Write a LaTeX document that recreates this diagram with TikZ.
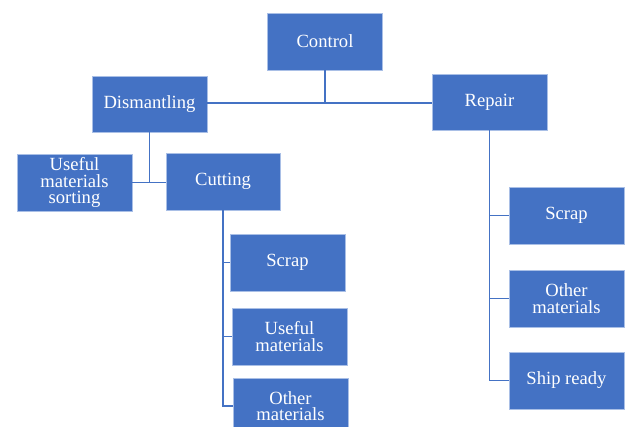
\documentclass[tikz,border=0pt]{standalone}
\usepackage{fontspec}
\setmainfont{Liberation Serif}
\definecolor{boxblue}{HTML}{4472C4}
\definecolor{boxedge}{HTML}{A9BFE6}
\begin{document}
\begin{tikzpicture}[x=1pt,y=-1pt,
  box/.style={draw=boxedge,line width=0.7pt,fill=boxblue,text=white,
    minimum width=115pt,minimum height=57pt,inner sep=1pt,align=center,
    font=\fontsize{18.6}{16.5}\selectfont},
  link/.style={draw=boxblue,line width=1.2pt}]
\useasboundingbox (0,0) rectangle (625,427);
\clip (0,0) rectangle (625,427);
\node[box] (control) at (325,41.5) {Control};
\node[box,minimum height=56pt] (dism) at (149.5,104) {Dismantling};
\node[box,minimum height=56pt] (repair) at (489.5,102) {Repair};
\node[box] (ums) at (74.5,182.5) {Useful\\materials\\sorting};
\node[box,minimum width=114pt] (cut) at (223,181.5) {Cutting};
\node[box] (scrapL) at (287.5,262.5) {Scrap};
\node[box] (useful) at (289.5,336.5) {Useful\\materials};
\node[box,minimum height=56pt] (otherL) at (290.5,406) {Other\\materials};
\node[box] (scrapR) at (566.5,215.5) {Scrap};
\node[box] (otherR) at (566.5,298.5) {Other\\materials};
\node[box] (ship) at (566.5,380.5) {Ship ready};
\coordinate (j1) at (325,103);
\path[link] (control.south) -- (j1);
\path[link] (dism.east |- j1) -- (repair.west |- j1);
\path[link] (dism.south) -- (dism.south |- ums.east);
\path[link] (ums.east) -- (cut.west |- ums.east);
\path[link] (cut.south) |- (scrapL.west);
\path[link] (cut.south) |- (useful.west);
\path[link] (cut.south) |- (otherL.west);
\path[link] (repair.south) |- (scrapR.west);
\path[link] (repair.south) |- (otherR.west);
\path[link] (repair.south) |- (ship.west);
\end{tikzpicture}
\end{document}
